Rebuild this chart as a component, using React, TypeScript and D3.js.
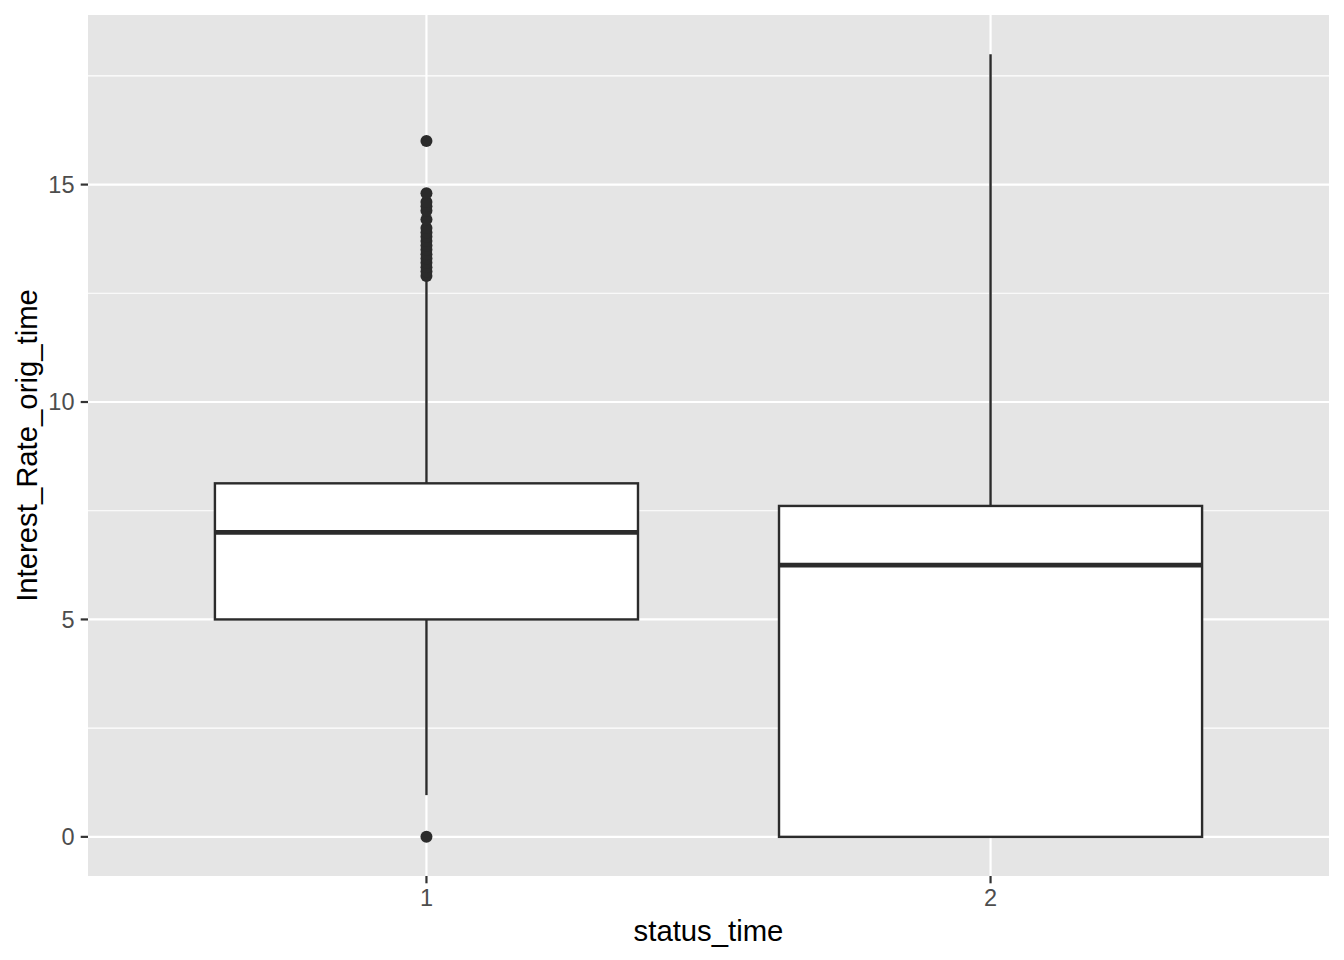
import React from "react";
import * as d3 from "d3";

const categories = ["1", "2"];
const q1 = [5.0, 0.0];
const medians = [7.0, 6.25];
const q3 = [8.13, 7.61];
const whiskerLow = [0.96, 0.0];
const whiskerHigh = [12.8, 18.0];
const outliers1 = [0, 12.9, 13.0, 13.1, 13.2, 13.3, 13.4, 13.5, 13.6, 13.7, 13.8, 13.9, 14.0, 14.2, 14.4, 14.5, 14.6, 14.8, 16.0];
const outliers2: number[] = [];
const outliers = [outliers1, outliers2];
const yTicks = [0, 5, 10, 15];
const yMinor = [2.5, 7.5, 12.5, 17.5];

const W = 1344;
const H = 960;
const PL = 88, PR = 1329, PT = 15, PB = 876;

export default function App() {
  const y = d3.scaleLinear().domain([-0.9, 18.9]).range([PB, PT]);
  const x = d3.scaleLinear().domain([0.4, 2.6]).range([PL, PR]);
  const bw = (x(1.375) - x(0.625));
  const textCol = "#4D4D4D";
  const lineCol = "#2B2B2B";
  return (
    <svg width={W} height={H} style={{ position: "absolute", left: 0, top: 0, background: "#fff" }}
      fontFamily="'Liberation Sans', Arial, Helvetica, sans-serif">
      <rect x={PL} y={PT} width={PR - PL} height={PB - PT} fill="#E5E5E5" />
      {yMinor.map((v) => (
        <line key={"m" + v} x1={PL} x2={PR} y1={y(v)} y2={y(v)} stroke="#fff" strokeWidth={1.1} />
      ))}
      {yTicks.map((v) => (
        <line key={"g" + v} x1={PL} x2={PR} y1={y(v)} y2={y(v)} stroke="#fff" strokeWidth={2.2} />
      ))}
      {categories.map((c, i) => (
        <line key={"gx" + c} x1={x(i + 1)} x2={x(i + 1)} y1={PT} y2={PB} stroke="#fff" strokeWidth={2.2} />
      ))}
      {categories.map((c, i) => {
        const cx = x(i + 1);
        return (
          <g key={"b" + c}>
            <line x1={cx} x2={cx} y1={y(q3[i])} y2={y(whiskerHigh[i])} stroke={lineCol} strokeWidth={2.4} />
            <line x1={cx} x2={cx} y1={y(q1[i])} y2={y(whiskerLow[i])} stroke={lineCol} strokeWidth={2.4} />
            <rect x={cx - bw / 2} y={y(q3[i])} width={bw} height={y(q1[i]) - y(q3[i])}
              fill="#fff" stroke={lineCol} strokeWidth={2.4} />
            <line x1={cx - bw / 2} x2={cx + bw / 2} y1={y(medians[i])} y2={y(medians[i])}
              stroke={lineCol} strokeWidth={4.8} />
            {outliers[i].map((v, j) => (
              <circle key={j} cx={cx} cy={y(v)} r={6} fill={lineCol} />
            ))}
          </g>
        );
      })}
      {yTicks.map((v) => (
        <g key={"yt" + v}>
          <line x1={PL - 7.3} x2={PL} y1={y(v)} y2={y(v)} stroke="#333333" strokeWidth={2.2} />
          <text x={PL - 13.5} y={y(v)} dy="0.36em" textAnchor="end" fontSize={23.5} fill={textCol}>{v}</text>
        </g>
      ))}
      {categories.map((c, i) => (
        <g key={"xt" + c}>
          <line x1={x(i + 1)} x2={x(i + 1)} y1={PB} y2={PB + 7.3} stroke="#333333" strokeWidth={2.2} />
          <text x={x(i + 1)} y={906} textAnchor="middle" fontSize={23.5} fill={textCol}>{c}</text>
        </g>
      ))}
      <text x={(PL + PR) / 2} y={941} textAnchor="middle" fontSize={29.3} fill="#000">status_time</text>
      <text transform={`translate(37, ${(PT + PB) / 2}) rotate(-90)`} textAnchor="middle" fontSize={29.3} fill="#000">
        Interest_Rate_orig_time
      </text>
    </svg>
  );
}
